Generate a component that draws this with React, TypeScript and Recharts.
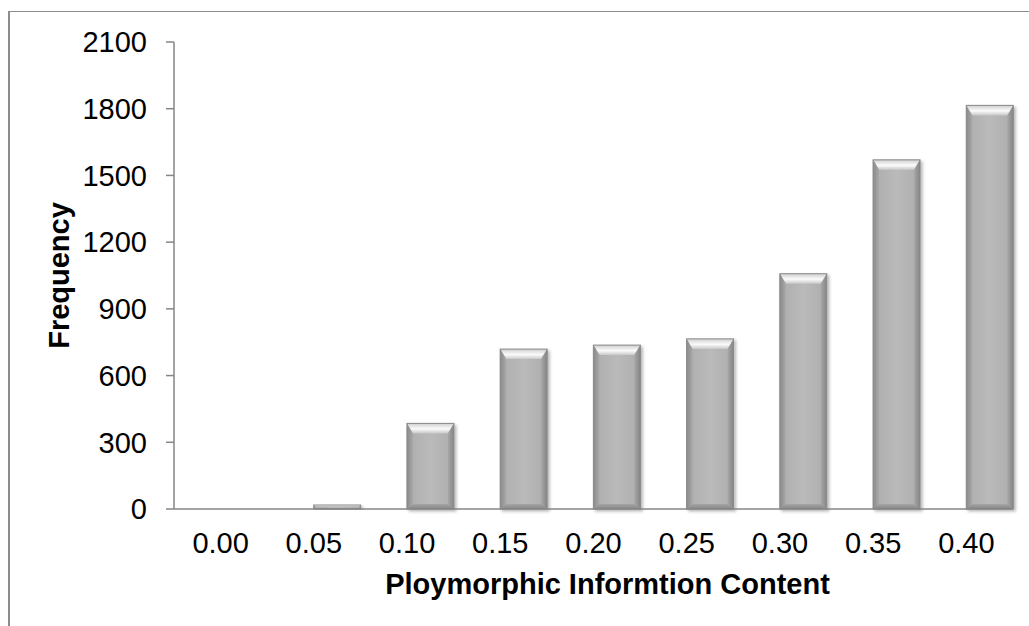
import React from "react";
import { BarChart, Bar, XAxis, YAxis } from "recharts";

const categories: string[] = ["0.00", "0.05", "0.10", "0.15", "0.20", "0.25", "0.30", "0.35", "0.40"];
const frequency: number[] = [0, 18, 385, 719, 737, 765, 1058, 1570, 1815];
const yTicks: number[] = [0, 300, 600, 900, 1200, 1500, 1800, 2100];

const data = categories.map((c, i) => ({ pic: c, freq: frequency[i] }));

const FONT = "'Liberation Sans', Arial, sans-serif";

function BevelBar(props: any) {
  const { x, y, width, height } = props;
  if (!height || height <= 0) return null;
  const X = x + width / 2;
  const w = width;
  const h = height;
  const b = Math.min(10, h / 2.5);
  const s = Math.min(6, w / 5, h / 2.5);
  const bb = Math.min(5, h / 4);
  return (
    <g filter="url(#barShadow)">
      <rect x={X} y={y} width={w} height={h} fill="url(#barBody)" />
      <polygon
        points={`${X},${y} ${X + w},${y} ${X + w - s},${y + b} ${X + s},${y + b}`}
        fill="url(#barTop)"
      />
      <polygon
        points={`${X},${y} ${X + s},${y + b} ${X + s},${y + h - bb} ${X},${y + h}`}
        fill="url(#barLeft)"
      />
      <polygon
        points={`${X + w},${y} ${X + w - s},${y + b} ${X + w - s},${y + h - bb} ${X + w},${y + h}`}
        fill="url(#barRight)"
      />
      <polygon
        points={`${X},${y + h} ${X + s},${y + h - bb} ${X + w - s},${y + h - bb} ${X + w},${y + h}`}
        fill="url(#barBottom)"
      />
      <rect x={X} y={y} width={w} height={h} fill="none" stroke="#8a8a8a" strokeWidth={1} />
    </g>
  );
}

export default function App() {
  return (
    <div
      style={{
        position: "absolute",
        left: 0,
        top: 0,
        width: 1029,
        height: 626,
        overflow: "hidden",
        background: "#fff",
        fontFamily: FONT,
      }}
    >
      <svg width={0} height={0} style={{ position: "absolute" }}>
        <defs>
          <linearGradient id="barBody" x1="0" y1="0" x2="1" y2="0">
            <stop offset="0" stopColor="#adadad" />
            <stop offset="0.5" stopColor="#bababa" />
            <stop offset="1" stopColor="#adadad" />
          </linearGradient>
          <linearGradient id="barTop" x1="0" y1="0" x2="0" y2="1">
            <stop offset="0" stopColor="#cfcfcf" />
            <stop offset="0.55" stopColor="#fbfbfb" />
            <stop offset="1" stopColor="#c8c8c8" />
          </linearGradient>
          <linearGradient id="barLeft" x1="0" y1="0" x2="1" y2="0">
            <stop offset="0" stopColor="#8a8a8a" />
            <stop offset="1" stopColor="#a9a9a9" />
          </linearGradient>
          <linearGradient id="barRight" x1="1" y1="0" x2="0" y2="0">
            <stop offset="0" stopColor="#858585" />
            <stop offset="1" stopColor="#a7a7a7" />
          </linearGradient>
          <linearGradient id="barBottom" x1="0" y1="1" x2="0" y2="0">
            <stop offset="0" stopColor="#858585" />
            <stop offset="1" stopColor="#a5a5a5" />
          </linearGradient>
          <filter id="barShadow" x="-20%" y="-5%" width="150%" height="120%">
            <feDropShadow dx="2" dy="2" stdDeviation="1.5" floodColor="#000" floodOpacity="0.28" />
          </filter>
        </defs>
      </svg>
      <div
        style={{
          position: "absolute",
          left: 8,
          top: 11,
          width: 1100,
          height: 700,
          borderLeft: "2px solid #8c8c8c",
          borderTop: "1px solid #8c8c8c",
        }}
      />
      <div style={{ position: "absolute", left: 0, top: 0 }}>
        <BarChart
          width={1029}
          height={626}
          data={data}
          margin={{ top: 42, right: 16, bottom: 17, left: 114 }}
        >
          <XAxis
            dataKey="pic"
            type="category"
            axisLine={{ stroke: "#868686", strokeWidth: 1.5 }}
            tickLine={false}
            tickSize={0}
            tickMargin={23}
            height={100}
            interval={0}
            tick={{ fill: "#000", fontSize: 29, fontFamily: FONT }}
            label={{
              content: (p: any) => {
                const vb = p.viewBox || {};
                return (
                  <text
                    x={vb.x + vb.width / 2 + 14}
                    y={vb.y + 85}
                    textAnchor="middle"
                    fontSize={29}
                    fontWeight="bold"
                    fontFamily={FONT}
                    fill="#000"
                  >
                    Ploymorphic Informtion Content
                  </text>
                );
              },
            }}
          />
          <YAxis
            type="number"
            domain={[0, 2100]}
            ticks={yTicks}
            interval={0}
            width={60}
            axisLine={{ stroke: "#868686", strokeWidth: 1.5 }}
            tickLine={{ stroke: "#868686", strokeWidth: 1.5 }}
            tickSize={8}
            tickMargin={19}
            tick={{ fill: "#000", fontSize: 29, fontFamily: FONT }}
            label={{
              content: (p: any) => {
                const vb = p.viewBox || {};
                const cx = vb.x - 45;
                const cy = vb.y + vb.height / 2;
                return (
                  <text
                    x={cx}
                    y={cy}
                    transform={`rotate(-90 ${cx} ${cy})`}
                    textAnchor="middle"
                    fontSize={29}
                    fontWeight="bold"
                    fontFamily={FONT}
                    fill="#000"
                  >
                    Frequency
                  </text>
                );
              },
            }}
          />
          <Bar dataKey="freq" barSize={47} shape={<BevelBar />} isAnimationActive={false} />
        </BarChart>
      </div>
    </div>
  );
}
